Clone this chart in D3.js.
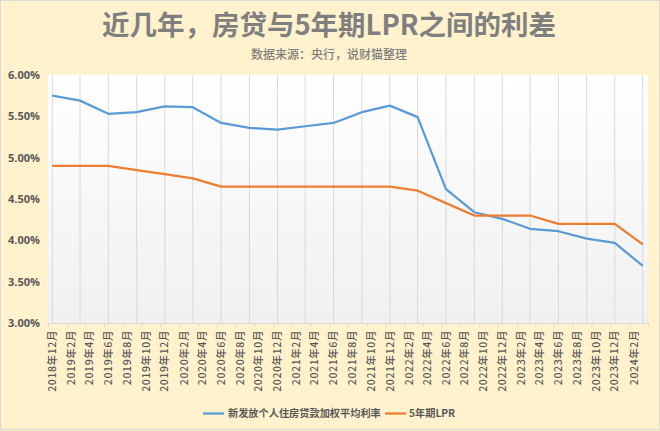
<!DOCTYPE html>
<html><head><meta charset="utf-8">
<script src="https://cdn.jsdelivr.net/npm/d3@7/dist/d3.min.js"></script>
<style>html,body{margin:0;padding:0;background:#fff;}svg{display:block;}</style>
</head><body>
<svg id="c" width="660" height="431"></svg>
<script>
// Data (quarterly observations)
const dates = ["2018-12","2019-03","2019-06","2019-09","2019-12","2020-03","2020-06","2020-09","2020-12","2021-03","2021-06","2021-09","2021-12","2022-03","2022-06","2022-09","2022-12","2023-03","2023-06","2023-09","2023-12","2024-03"];
const mortgageRate = [5.75,5.69,5.53,5.55,5.62,5.61,5.42,5.36,5.34,5.38,5.42,5.55,5.63,5.49,4.62,4.34,4.26,4.14,4.11,4.02,3.97,3.69];
const lpr5y = [4.90,4.90,4.90,4.85,4.80,4.75,4.65,4.65,4.65,4.65,4.65,4.65,4.65,4.60,4.45,4.30,4.30,4.30,4.20,4.20,4.20,3.95];
const xTickLabels = ["2018年12月","2019年2月","2019年4月","2019年6月","2019年8月","2019年10月","2019年12月","2020年2月","2020年4月","2020年6月","2020年8月","2020年10月","2020年12月","2021年2月","2021年4月","2021年6月","2021年8月","2021年10月","2021年12月","2022年2月","2022年4月","2022年6月","2022年8月","2022年10月","2022年12月","2023年2月","2023年4月","2023年6月","2023年8月","2023年10月","2023年12月","2024年2月"];
const yTicks = [3.0,3.5,4.0,4.5,5.0,5.5,6.0];
const seriesNames = ["新发放个人住房贷款加权平均利率","5年期LPR"];
const colors = ["#5B9BD5","#ED7D31"];

const svg = d3.select("#c");
const W = 660, H = 431;
const plot = {l:48, r:648, t:75, b:323};

svg.append("rect").attr("x",0).attr("y",0).attr("width",W).attr("height",H).attr("fill","#FFF2CC");
svg.append("rect").attr("x",0.5).attr("y",0.5).attr("width",W-1).attr("height",H-2).attr("fill","none").attr("stroke","#D9D9D9");

const defs = svg.append("defs");
const g1 = defs.append("linearGradient").attr("id","pg").attr("x1",0).attr("y1",0).attr("x2",0).attr("y2",1);
g1.append("stop").attr("offset","0%").attr("stop-color","#FFFFFF");
g1.append("stop").attr("offset","100%").attr("stop-color","#F0F0F0");
svg.append("rect").attr("x",plot.l).attr("y",plot.t).attr("width",plot.r-plot.l).attr("height",plot.b-plot.t).attr("fill","url(#pg)");

const parseM = d3.timeParse("%Y-%m");
const mid = s => { const d = parseM(s); return new Date(d.getFullYear(), d.getMonth(), 15); };
const x = d3.scaleTime().domain([new Date(2018,11,1), new Date(2024,3,1)]).range([plot.l, plot.r]);
const y = d3.scaleLinear().domain([3,6]).range([plot.b, plot.t]);

// vertical gridlines at data points
svg.append("g").selectAll("line").data(dates).join("line")
  .attr("x1",d=>x(mid(d))).attr("x2",d=>x(mid(d)))
  .attr("y1",plot.t).attr("y2",plot.b)
  .attr("stroke","#D9D9D9").attr("stroke-width",1);

// x axis
const tickDates = d3.range(0,33).map(k=>new Date(2018,11+2*k,1));
const xAxis = d3.axisBottom(x).tickValues(tickDates).tickSize(4).tickFormat("");
const gx = svg.append("g").attr("transform",`translate(0,${plot.b})`).call(xAxis);
gx.select(".domain").attr("stroke","#D9D9D9");
gx.selectAll(".tick line").attr("stroke","#D9D9D9");

const labelDates = xTickLabels.map((t,k)=>new Date(2018,11+2*k,15));
svg.append("g").selectAll("text").data(xTickLabels).join("text")
  .attr("transform",(d,i)=>`translate(${x(labelDates[i])},${plot.b+7}) rotate(-90)`)
  .attr("dy","0.35em")
  .attr("text-anchor","end")
  .attr("font-family","'Noto Sans CJK SC', sans-serif")
  .attr("font-size","10.5px")
  .attr("font-weight","500")
  .attr("letter-spacing","0.6px")
  .attr("fill","#595959")
  .text(d=>d);

// y axis labels
const yAxis = d3.axisLeft(y).tickValues(yTicks).tickSize(0).tickPadding(8).tickFormat(d=>d.toFixed(2)+"%");
const gy = svg.append("g").attr("transform",`translate(${plot.l},0)`).call(yAxis);
gy.select(".domain").remove();
gy.selectAll("text").attr("font-family","'Open Sans', sans-serif").attr("font-size","11px").attr("font-weight","bold").attr("fill","#595959");

// lines
const line = d3.line().x((d,i)=>x(mid(dates[i]))).y(d=>y(d));
[mortgageRate, lpr5y].forEach((s,k)=>{
  svg.append("path").datum(s).attr("d",line).attr("fill","none")
    .attr("stroke",colors[k]).attr("stroke-width",2.25).attr("stroke-linejoin","round");
});

// title
svg.append("text").attr("x",329).attr("y",35).attr("text-anchor","middle")
  .attr("font-family","'Noto Sans CJK SC', sans-serif").attr("font-weight","bold")
  .attr("font-size","27.5px").attr("fill","#7F7F7F").text("近几年，房贷与5年期LPR之间的利差");
svg.append("text").attr("x",329).attr("y",58.5).attr("text-anchor","middle")
  .attr("font-family","'Noto Sans CJK SC', sans-serif").attr("font-weight","500")
  .attr("font-size","12px").attr("fill","#7F7F7F").text("数据来源：央行，说财猫整理");

// legend
const leg = svg.append("g");
const legItems = [{x:203, tx:228}, {x:385, tx:409}];
seriesNames.forEach((n,k)=>{
  leg.append("line").attr("x1",legItems[k].x).attr("x2",legItems[k].x+21).attr("y1",413.5).attr("y2",413.5)
    .attr("stroke",colors[k]).attr("stroke-width",2.25);
  leg.append("text").attr("x",legItems[k].tx).attr("y",413.5).attr("dy","0.35em")
    .attr("font-family","'Noto Sans CJK SC', sans-serif").attr("font-weight","bold")
    .attr("font-size","10.2px").attr("fill","#595959").text(n);
});
</script>
</body></html>
